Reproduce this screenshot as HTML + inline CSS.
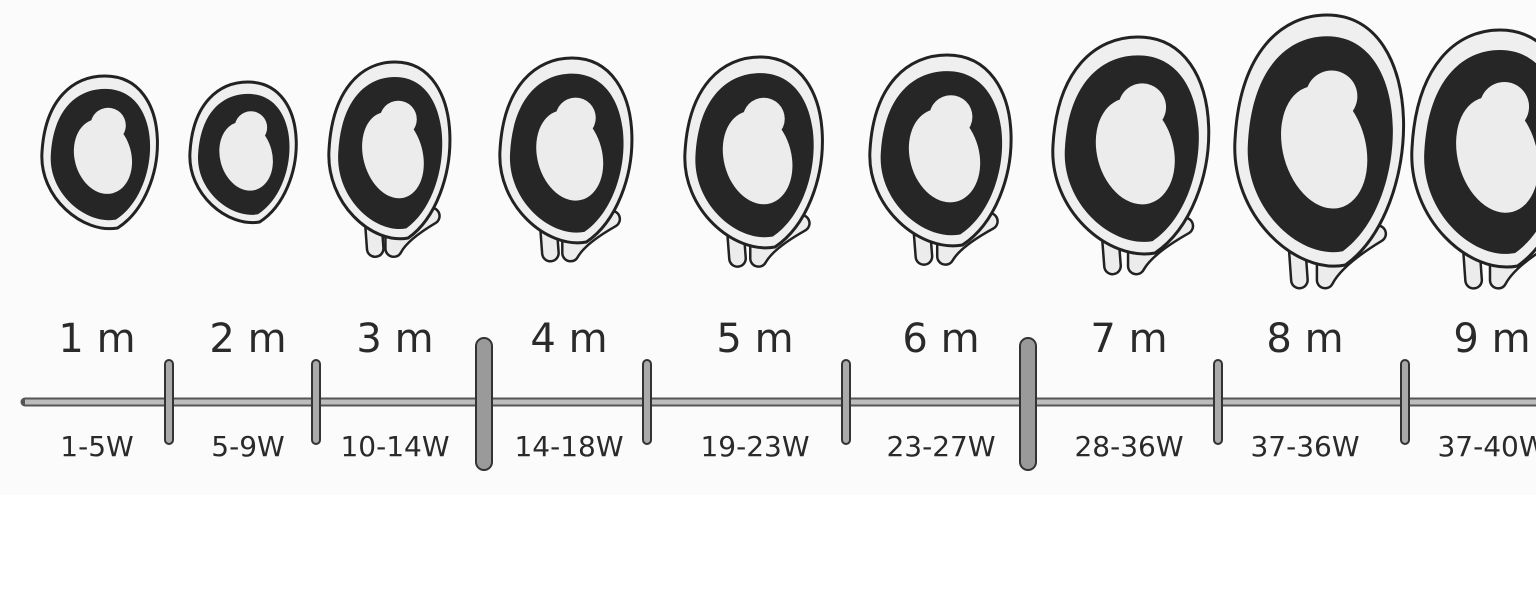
<!DOCTYPE html>
<html><head><meta charset="utf-8"><style>
html,body{margin:0;padding:0;background:#fff}
svg{display:block}
text{font-family:"DejaVu Sans","Liberation Sans",sans-serif;fill:#2a2a2a}
</style></head><body>
<svg id="chart" width="1536" height="600" viewBox="0 0 1536 600">
<rect x="0" y="0" width="1536" height="495" fill="#fbfbfb"/>
<g id="eggs"></g>
<line x1="25" y1="402" x2="1536" y2="402" stroke="#555" stroke-width="9" stroke-linecap="round"/>
<line x1="25" y1="402" x2="1536" y2="402" stroke="#bdbdbd" stroke-width="5"/>
<g id="ticks"></g>
<g id="labels"></g>
</svg>
<script>
const months=["1m","2m","3m","4m","5m","6m","7m","8m","9m"];
const weeks=["1-5W","5-9W","10-14W","14-18W","19-23W","23-27W","28-36W","37-36W","37-40W"];
const monthX=[97,248,395,569,755,941,1129,1305,1492];
const tickX=[169,316,484,647,846,1028,1218,1405];
const tickBig=[0,0,1,0,0,1,0,0];
const eggCx=[105,248,395,572,760,947,1138,1327,1500];
const eggCy=[152,152,150,150,152,150,145,140,148];
const eggRx=[63,58,66,72,75,77,85,92,88];
const eggRy=[76,70,88,92,95,95,108,125,118];
const eggTail=[0,0,1,1,1,1,1,1,1];
const NS="http://www.w3.org/2000/svg";
function mk(t,a,p){const e=document.createElementNS(NS,t);for(const k in a)e.setAttribute(k,a[k]);p.appendChild(e);return e;}
function eggPath(cx,cy,rx,ry){
  const top=cy-ry,bot=cy+ry;
  return `M${cx} ${top} C${cx+rx*1.1} ${top} ${cx+rx*1.05} ${cy+ry*0.55} ${cx+rx*0.2} ${bot} C${cx-rx*0.35} ${bot+ry*0.08} ${cx-rx*1.05} ${cy+ry*0.6} ${cx-rx} ${cy} C${cx-rx*0.95} ${cy-ry*0.7} ${cx-rx*0.5} ${top} ${cx} ${top}Z`;
}
const eg=document.getElementById('eggs');
eggCx.forEach((cx,i)=>{
  const cy=eggCy[i],rx=eggRx[i],ry=eggRy[i];
  const g=mk('g',{},eg);
  
  
  if(eggTail[i]){
    const ty=cy+ry*0.6;
    const d1=`M${cx-rx*0.35} ${ty} L${cx-rx*0.3} ${cy+ry*1.12}`;
    const d2=`M${cx-rx*0.02} ${ty} L${cx-rx*0.02} ${cy+ry*1.12} Q${cx+rx*0.1} ${cy+ry*0.95} ${cx+rx*0.55} ${cy+ry*0.75}`;
    [d1,d2].forEach(d=>{
      mk('path',{d:d,fill:'none',stroke:'#222','stroke-width':19,'stroke-linecap':'round','stroke-linejoin':'round'},g);
      mk('path',{d:d,fill:'none',stroke:'#ececec','stroke-width':14,'stroke-linecap':'round','stroke-linejoin':'round'},g);
    });
  }
  mk('path',{d:eggPath(cx,cy,rx,ry),fill:'#efefef',stroke:'#222','stroke-width':3},g);
  mk('path',{d:eggPath(cx,cy+ry*0.03,rx*0.86,ry*0.86),fill:'#262626'},g);
  mk('ellipse',{cx:cx-rx*0.05,cy:cy+ry*0.05,rx:rx*0.45,ry:ry*0.5,fill:'#ececec',transform:`rotate(-15 ${cx} ${cy})`},g);
  mk('circle',{cx:cx+rx*0.05,cy:cy-ry*0.35,r:rx*0.28,fill:'#ececec'},g);
});
const tg=document.getElementById('ticks');
tickX.forEach((x,i)=>{
  const big=tickBig[i];
  const r=mk('rect',{x:x-(big?8:4),y:big?338:360,width:big?16:8,height:big?132:84,rx:big?8:4,fill:big?'#9a9a9a':'#aaa',stroke:'#333','stroke-width':2},tg);
  
  
});
const lg=document.getElementById('labels');
months.forEach((m,i)=>{
  const t=mk('text',{x:monthX[i],y:352,'text-anchor':'middle','font-size':40},lg);
  t.textContent=m.replace('m',' m');
  
  
  const w=mk('text',{x:monthX[i],y:456,'text-anchor':'middle','font-size':28},lg);
  w.textContent=weeks[i];
  
  
});
</script>
</body></html>
